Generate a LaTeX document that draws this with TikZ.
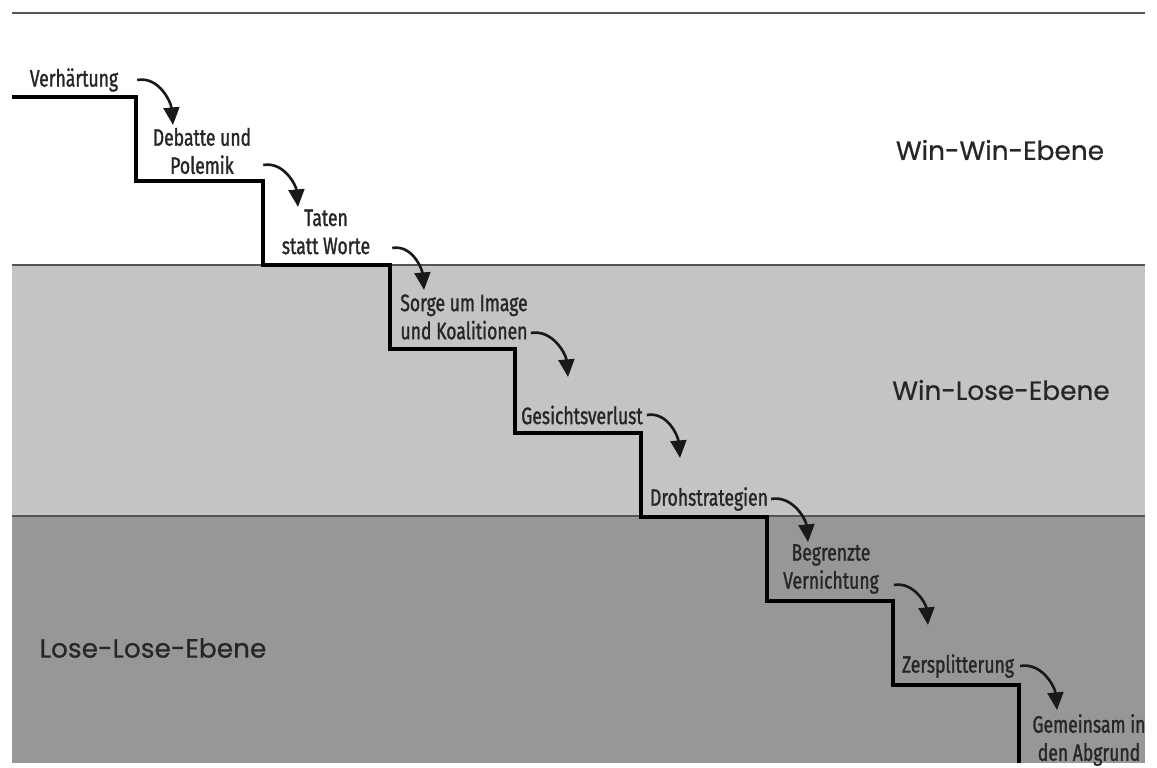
\documentclass[tikz,border=0pt]{standalone}
\usepackage{fontspec}
\setmainfont{Fira Sans}
\newfontfamily\stufenfont{Fira Sans}[FakeStretch=0.74,FakeBold=1.2]
\newfontfamily\ebenenfont{Poppins}[FakeBold=0.6]
\usepackage{xcolor}
\usepackage{tikz}
\usetikzlibrary{arrows.meta,calc}
\definecolor{winlose}{HTML}{C4C4C4}
\definecolor{loselose}{HTML}{979797}
\definecolor{kante}{HTML}{555555}

\begin{document}
\begin{tikzpicture}[
    stufe/.style={font=\stufenfont\fontsize{13.5}{16}\selectfont, text=black!85, align=center, inner sep=1pt},
    ebene/.style={font=\ebenenfont\fontsize{15}{18}\selectfont, text=black!85, inner sep=1pt},
    treppe/.style={line width=2.7pt, line join=miter, black},
    trenner/.style={line width=1.2pt, draw=kante},
    pfeil/.style={line width=1.5pt, black!90, -{Triangle[width=9pt,length=10pt]}}
]

% Page frame
\fill[white] (0,0) rectangle (23.14,-15.26);

% Levels
\fill[winlose] (0.24,-5.30) rectangle (22.90,-10.32);
\fill[loselose] (0.24,-10.32) rectangle (22.90,-15.26);
\draw[trenner] (0.24,-0.26) -- (22.90,-0.26);
\draw[trenner] (0.24,-5.30) -- (22.90,-5.30);
\draw[trenner] (0.24,-10.32) -- (22.90,-10.32);

% Staircase
\draw[treppe] (0.24,-1.94) -| (2.72,-3.62) -| (5.26,-5.30) -| (7.80,-6.98)
    -| (10.30,-8.66) -| (12.82,-10.34) -| (15.34,-12.02) -| (17.86,-13.70)
    -| (20.38,-15.26);

% Escalation stages
\node[stufe] (verh) at (1.48,-1.60) {Verhärtung};
\node[stufe] (debatte) at (4.04,-3.02) {Debatte und\\Polemik};
\node[stufe] (taten) at (6.52,-4.64) {Taten\\statt Worte};
\node[stufe] (sorge) at (9.28,-6.34) {Sorge um Image\\und Koalitionen};
\node[stufe] (gesicht) at (11.64,-8.30) {Gesichtsverlust};
\node[stufe] (droh) at (14.18,-9.98) {Drohstrategien};
\node[stufe] (begrenzt) at (16.62,-11.38) {Begrenzte\\Vernichtung};
\node[stufe] (zersplitt) at (19.16,-13.32) {Zersplitterung};
\node[stufe] (abgrund) at (21.78,-14.80) {Gemeinsam in\\den Abgrund};

% Level labels
\node[ebene] (winwin) at (20.00,-3.00) {Win-Win-Ebene};
\node[ebene] (winlos) at (20.02,-7.80) {Win-Lose-Ebene};
\node[ebene] (loslos) at (3.06,-12.96) {Lose-Lose-Ebene};

% Arrow tips
\coordinate (p1) at (3.46,-2.50);
\coordinate (p2) at (5.96,-4.14);
\coordinate (p3) at (8.48,-5.80);
\coordinate (p4) at (11.36,-7.54);
\coordinate (p5) at (13.60,-9.16);
\coordinate (p6) at (16.16,-10.84);
\coordinate (p7) at (18.56,-12.50);
\coordinate (p8) at (21.14,-14.20);

% Arrows
\draw[pfeil] ([xshift=0.34cm]verh.east) to[out=10,in=95] (p1);
\draw[pfeil] ([xshift=0.20cm,yshift=-0.28cm]debatte.east) to[out=10,in=95] (p2);
\draw[pfeil] ([xshift=0.40cm,yshift=-0.32cm]taten.east) to[out=10,in=95] (p3);
\draw[pfeil] ([xshift=0.02cm,yshift=-0.32cm]sorge.east) to[out=10,in=95] (p4);
\draw[pfeil] ([xshift=0.04cm]gesicht.east) to[out=10,in=95] (p5);
\draw[pfeil] ([xshift=0.02cm]droh.east) to[out=10,in=95] (p6);
\draw[pfeil] ([xshift=0.26cm,yshift=-0.32cm]begrenzt.east) to[out=10,in=95] (p7);
\draw[pfeil] ([xshift=0.08cm]zersplitt.east) to[out=10,in=95] (p8);

\end{tikzpicture}
\end{document}
